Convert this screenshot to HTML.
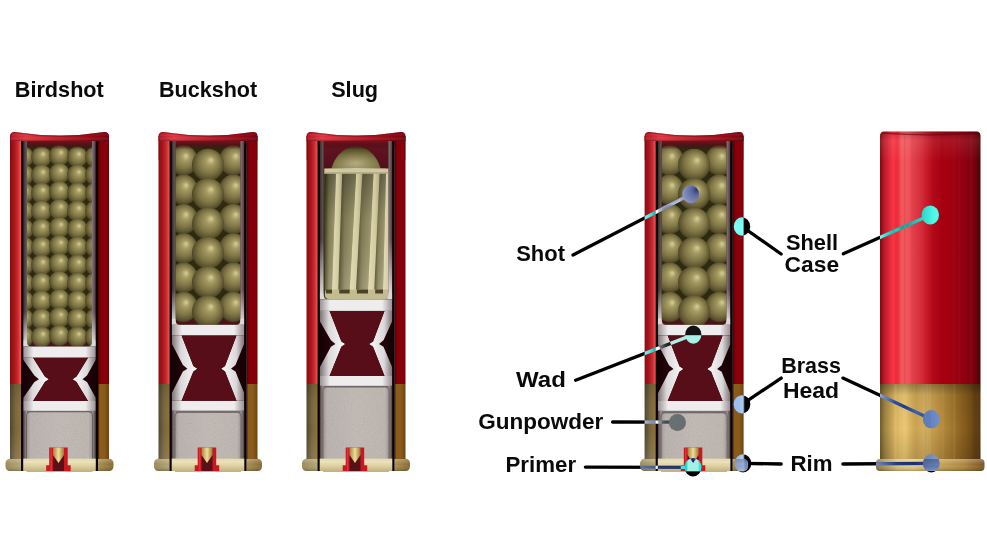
<!DOCTYPE html>
<html><head><meta charset="utf-8"><style>
html,body{margin:0;padding:0;background:#fff;width:987px;height:551px;overflow:hidden}
svg{display:block}
text{font-family:"Liberation Sans",sans-serif;font-weight:bold;font-size:22px;fill:#0a0a0a}
</style></head><body>
<svg width="987" height="551" viewBox="0 0 987 551">
<rect width="987" height="551" fill="#fff"/>
<defs><linearGradient id="redL" x1="0" y1="0" x2="1" y2="0"><stop offset="0" stop-color="#8a0c10"/><stop offset="0.4" stop-color="#a8161c"/><stop offset="0.75" stop-color="#cc2e34"/><stop offset="1" stop-color="#f45a58"/></linearGradient>
<linearGradient id="redR" x1="0" y1="0" x2="1" y2="0"><stop offset="0" stop-color="#4a0006"/><stop offset="0.25" stop-color="#86000a"/><stop offset="0.8" stop-color="#88000a"/><stop offset="1" stop-color="#6a0008"/></linearGradient>
<linearGradient id="brassL" x1="0" y1="0" x2="1" y2="0"><stop offset="0" stop-color="#50442a"/><stop offset="0.5" stop-color="#76663c"/><stop offset="1" stop-color="#8e7038"/></linearGradient>
<linearGradient id="brassLv" x1="0" y1="0" x2="0" y2="1"><stop offset="0" stop-color="#000" stop-opacity="0.12"/><stop offset="0.6" stop-color="#fff" stop-opacity="0.0"/><stop offset="1" stop-color="#fff" stop-opacity="0.1"/></linearGradient>
<linearGradient id="brassR" x1="0" y1="0" x2="1" y2="0"><stop offset="0" stop-color="#2a1808"/><stop offset="0.15" stop-color="#8a5c1c"/><stop offset="0.6" stop-color="#8a5a1a"/><stop offset="1" stop-color="#6a4412"/></linearGradient>
<linearGradient id="lip" x1="0" y1="0" x2="1" y2="0"><stop offset="0" stop-color="#b01420"/><stop offset="0.15" stop-color="#e23440"/><stop offset="0.45" stop-color="#c41c28"/><stop offset="0.8" stop-color="#9a0614"/><stop offset="1" stop-color="#7a000e"/></linearGradient>
<linearGradient id="lipV" x1="0" y1="0" x2="0" y2="1"><stop offset="0" stop-color="#000" stop-opacity="0.15"/><stop offset="0.25" stop-color="#fff" stop-opacity="0.06"/><stop offset="0.55" stop-color="#fff" stop-opacity="0.0"/><stop offset="1" stop-color="#000" stop-opacity="0.3"/></linearGradient>
<linearGradient id="topshade" x1="0" y1="0" x2="0" y2="1"><stop offset="0" stop-color="#7a1020" stop-opacity="1"/><stop offset="0.4" stop-color="#5a1018" stop-opacity="0.9"/><stop offset="1" stop-color="#3a0c10" stop-opacity="0.0"/></linearGradient>
<radialGradient id="ball" cx="0.5" cy="0.48" r="0.55" fx="0.6" fy="0.34">
 <stop offset="0" stop-color="#d6ce9a"/><stop offset="0.25" stop-color="#a49a62"/><stop offset="0.6" stop-color="#807646"/><stop offset="0.86" stop-color="#5a522e"/><stop offset="1" stop-color="#363012"/></radialGradient>
<linearGradient id="legL" x1="0" y1="0" x2="1" y2="0"><stop offset="0" stop-color="#7a7074"/><stop offset="0.35" stop-color="#dcd8da"/><stop offset="1" stop-color="#fafafa"/></linearGradient>
<linearGradient id="legR" x1="1" y1="0" x2="0" y2="0"><stop offset="0" stop-color="#7a7074"/><stop offset="0.35" stop-color="#dcd8da"/><stop offset="1" stop-color="#fafafa"/></linearGradient>
<linearGradient id="band" x1="0" y1="0" x2="1" y2="0"><stop offset="0" stop-color="#9a9094"/><stop offset="0.14" stop-color="#eeecec"/><stop offset="0.86" stop-color="#eeecec"/><stop offset="1" stop-color="#9a9094"/></linearGradient>
<linearGradient id="darkside" x1="0" y1="0" x2="1" y2="0"><stop offset="0" stop-color="#140104"/><stop offset="1" stop-color="#4a0c14"/></linearGradient>
<linearGradient id="darksideR" x1="1" y1="0" x2="0" y2="0"><stop offset="0" stop-color="#140104"/><stop offset="1" stop-color="#4a0c14"/></linearGradient>
<linearGradient id="powder" x1="0" y1="0" x2="1" y2="0"><stop offset="0" stop-color="#9a9290"/><stop offset="0.06" stop-color="#b8b0ac"/><stop offset="0.5" stop-color="#c0b8b2"/><stop offset="0.94" stop-color="#bcb4ae"/><stop offset="1" stop-color="#9a9290"/></linearGradient>
<linearGradient id="skirtL" x1="0" y1="0" x2="1" y2="0"><stop offset="0" stop-color="#4a3c3c"/><stop offset="1" stop-color="#a89c9c"/></linearGradient>
<linearGradient id="skirtR" x1="0" y1="0" x2="1" y2="0"><stop offset="0" stop-color="#a89c9c"/><stop offset="1" stop-color="#4a3c3c"/></linearGradient>
<linearGradient id="base" x1="0" y1="0" x2="0" y2="1"><stop offset="0" stop-color="#e8deb4"/><stop offset="0.45" stop-color="#e4d8aa"/><stop offset="1" stop-color="#c4b484"/></linearGradient>
<linearGradient id="rim" x1="0" y1="0" x2="1" y2="0"><stop offset="0" stop-color="#9a8a58"/><stop offset="0.3" stop-color="#d0c490"/><stop offset="0.7" stop-color="#c8b880"/><stop offset="1" stop-color="#8a6a30"/></linearGradient>
<linearGradient id="rimV" x1="0" y1="0" x2="0" y2="1"><stop offset="0" stop-color="#fff" stop-opacity="0.25"/><stop offset="0.45" stop-color="#fff" stop-opacity="0"/><stop offset="1" stop-color="#000" stop-opacity="0.25"/></linearGradient>
<linearGradient id="anvil" x1="0" y1="0" x2="1" y2="0"><stop offset="0" stop-color="#a08440"/><stop offset="0.5" stop-color="#f0dc98"/><stop offset="1" stop-color="#9a7a38"/></linearGradient>
<linearGradient id="linerL" x1="0" y1="0" x2="1" y2="0"><stop offset="0" stop-color="#3a2c2c"/><stop offset="1" stop-color="#6a5a5a"/></linearGradient>
<linearGradient id="linerR" x1="0" y1="0" x2="1" y2="0"><stop offset="0" stop-color="#84767a"/><stop offset="1" stop-color="#4a3a3c"/></linearGradient>
<linearGradient id="petalV" x1="0" y1="0" x2="0" y2="1"><stop offset="0" stop-color="#fff" stop-opacity="0"/><stop offset="1" stop-color="#fff" stop-opacity="0.85"/></linearGradient>
<linearGradient id="slugbody" x1="0" y1="0" x2="1" y2="0"><stop offset="0" stop-color="#8a845c"/><stop offset="0.5" stop-color="#b0aa80"/><stop offset="1" stop-color="#7a7450"/></linearGradient>
<linearGradient id="slugbg" x1="0" y1="0" x2="0" y2="1"><stop offset="0" stop-color="#7a1424"/><stop offset="0.3" stop-color="#5e1220"/><stop offset="1" stop-color="#4e0e1a"/></linearGradient>
<linearGradient id="sect" x1="0" y1="0" x2="1" y2="0"><stop offset="0" stop-color="#4a4426"/><stop offset="0.35" stop-color="#8a845a"/><stop offset="1" stop-color="#b4ac80"/></linearGradient>
<linearGradient id="rib" x1="0" y1="0" x2="1" y2="0"><stop offset="0" stop-color="#e4dcb4"/><stop offset="0.6" stop-color="#d4cca0"/><stop offset="1" stop-color="#b0a880"/></linearGradient>
<linearGradient id="slugV" x1="0" y1="0" x2="0" y2="1"><stop offset="0" stop-color="#000" stop-opacity="0.4"/><stop offset="0.4" stop-color="#000" stop-opacity="0.1"/><stop offset="1" stop-color="#fff" stop-opacity="0.15"/></linearGradient>
<radialGradient id="dome" cx="0.5" cy="0.9" r="0.85" fx="0.5" fy="0.7">
 <stop offset="0" stop-color="#b4ac80"/><stop offset="0.5" stop-color="#827a4a"/><stop offset="1" stop-color="#4a4420"/></radialGradient>
<linearGradient id="ext" x1="0" y1="0" x2="1" y2="0"><stop offset="0" stop-color="#7a0810"/><stop offset="0.04" stop-color="#b81828"/><stop offset="0.13" stop-color="#fa3444"/><stop offset="0.17" stop-color="#ec2a3a"/><stop offset="0.22" stop-color="#f65a5e"/><stop offset="0.285" stop-color="#f0525a"/><stop offset="0.35" stop-color="#de3a46"/><stop offset="0.42" stop-color="#d22a38"/><stop offset="0.47" stop-color="#c41826"/><stop offset="0.535" stop-color="#b00818"/><stop offset="0.63" stop-color="#a80010"/><stop offset="0.8" stop-color="#960010"/><stop offset="0.93" stop-color="#7a0010"/><stop offset="0.985" stop-color="#5a0008"/><stop offset="1" stop-color="#4a0008"/></linearGradient>
<linearGradient id="extV" x1="0" y1="0" x2="0" y2="1"><stop offset="0" stop-color="#000" stop-opacity="0.15"/><stop offset="0.04" stop-color="#fff" stop-opacity="0.08"/><stop offset="0.12" stop-color="#fff" stop-opacity="0"/><stop offset="1" stop-color="#000" stop-opacity="0"/></linearGradient>
<linearGradient id="extBrass" x1="0" y1="0" x2="1" y2="0"><stop offset="0" stop-color="#6e5c2c"/><stop offset="0.05" stop-color="#a08444"/><stop offset="0.15" stop-color="#dcb460"/><stop offset="0.25" stop-color="#eac872"/><stop offset="0.35" stop-color="#caa252"/><stop offset="0.45" stop-color="#d6b060"/><stop offset="0.55" stop-color="#c29848"/><stop offset="0.7" stop-color="#a47a30"/><stop offset="0.85" stop-color="#845a1c"/><stop offset="1" stop-color="#5a3810"/></linearGradient>
<linearGradient id="extBrassV" x1="0" y1="0" x2="0" y2="1"><stop offset="0" stop-color="#000" stop-opacity="0.3"/><stop offset="0.15" stop-color="#000" stop-opacity="0.05"/><stop offset="0.6" stop-color="#000" stop-opacity="0"/><stop offset="1" stop-color="#000" stop-opacity="0.12"/></linearGradient>
<linearGradient id="extRim" x1="0" y1="0" x2="1" y2="0"><stop offset="0" stop-color="#8a7440"/><stop offset="0.2" stop-color="#dcc480"/><stop offset="0.35" stop-color="#e6cc88"/><stop offset="0.55" stop-color="#cca860"/><stop offset="0.8" stop-color="#b08840"/><stop offset="1" stop-color="#7a5424"/></linearGradient>
<filter id="noise" x="0" y="0" width="100%" height="100%">
 <feTurbulence type="fractalNoise" baseFrequency="0.9" numOctaves="2" seed="3"/>
 <feColorMatrix values="1.2 0 0 0 -0.1  1.2 0 0 0 -0.1  1.2 0 0 0 -0.1  0 0 0 0 0.09"/>
 <feComposite in2="SourceGraphic" operator="in"/>
</filter>
<clipPath id="pc0"><path d="M27.0,141 H92.0 V342.0 Q92.0,346.5 87.5,346.5 H31.5 Q27.0,346.5 27.0,342.0 Z"/></clipPath>
<clipPath id="pc1"><path d="M175.5,141 H240.5 V320.3 Q240.5,324.8 236.0,324.8 H180.0 Q175.5,324.8 175.5,320.3 Z"/></clipPath>
<clipPath id="pc2"><path d="M323.5,141 H388.5 V294.8 Q388.5,299.3 384.0,299.3 H328.0 Q323.5,299.3 323.5,294.8 Z"/></clipPath>
<clipPath id="pc3"><path d="M661.6,141 H726.6 V320.3 Q726.6,324.8 722.1,324.8 H666.1 Q661.6,324.8 661.6,320.3 Z"/></clipPath>
<clipPath id="cutR"><rect x="600" y="0" width="144.5" height="551"/></clipPath>
<clipPath id="extC"><rect x="876" y="131" width="108.5" height="340"/></clipPath></defs>
<rect x="21" y="140" width="77" height="331" fill="#3a0a10"/>
<g clip-path="url(#pc0)"><rect x="27.0" y="141" width="65.0" height="205.5" fill="#2e2a10"/><rect x="27.0" y="338.5" width="65.0" height="8" fill="#4a1418"/><ellipse cx="23.5" cy="157.0" rx="10.3" ry="10.6" fill="url(#ball)"/><ellipse cx="23.5" cy="175.0" rx="10.3" ry="10.6" fill="url(#ball)"/><ellipse cx="23.5" cy="193.0" rx="10.3" ry="10.6" fill="url(#ball)"/><ellipse cx="23.5" cy="211.0" rx="10.3" ry="10.6" fill="url(#ball)"/><ellipse cx="23.5" cy="229.0" rx="10.3" ry="10.6" fill="url(#ball)"/><ellipse cx="23.5" cy="247.0" rx="10.3" ry="10.6" fill="url(#ball)"/><ellipse cx="23.5" cy="265.0" rx="10.3" ry="10.6" fill="url(#ball)"/><ellipse cx="23.5" cy="283.0" rx="10.3" ry="10.6" fill="url(#ball)"/><ellipse cx="23.5" cy="301.0" rx="10.3" ry="10.6" fill="url(#ball)"/><ellipse cx="23.5" cy="319.0" rx="10.3" ry="10.6" fill="url(#ball)"/><ellipse cx="23.5" cy="337.0" rx="10.3" ry="10.6" fill="url(#ball)"/><ellipse cx="41.4" cy="157.0" rx="10.3" ry="10.6" fill="url(#ball)"/><ellipse cx="41.4" cy="175.0" rx="10.3" ry="10.6" fill="url(#ball)"/><ellipse cx="41.4" cy="193.0" rx="10.3" ry="10.6" fill="url(#ball)"/><ellipse cx="41.4" cy="211.0" rx="10.3" ry="10.6" fill="url(#ball)"/><ellipse cx="41.4" cy="229.0" rx="10.3" ry="10.6" fill="url(#ball)"/><ellipse cx="41.4" cy="247.0" rx="10.3" ry="10.6" fill="url(#ball)"/><ellipse cx="41.4" cy="265.0" rx="10.3" ry="10.6" fill="url(#ball)"/><ellipse cx="41.4" cy="283.0" rx="10.3" ry="10.6" fill="url(#ball)"/><ellipse cx="41.4" cy="301.0" rx="10.3" ry="10.6" fill="url(#ball)"/><ellipse cx="41.4" cy="319.0" rx="10.3" ry="10.6" fill="url(#ball)"/><ellipse cx="41.4" cy="337.0" rx="10.3" ry="10.6" fill="url(#ball)"/><ellipse cx="59.3" cy="155.5" rx="10.3" ry="10.6" fill="url(#ball)"/><ellipse cx="59.3" cy="173.5" rx="10.3" ry="10.6" fill="url(#ball)"/><ellipse cx="59.3" cy="191.5" rx="10.3" ry="10.6" fill="url(#ball)"/><ellipse cx="59.3" cy="209.5" rx="10.3" ry="10.6" fill="url(#ball)"/><ellipse cx="59.3" cy="227.5" rx="10.3" ry="10.6" fill="url(#ball)"/><ellipse cx="59.3" cy="245.5" rx="10.3" ry="10.6" fill="url(#ball)"/><ellipse cx="59.3" cy="263.5" rx="10.3" ry="10.6" fill="url(#ball)"/><ellipse cx="59.3" cy="281.5" rx="10.3" ry="10.6" fill="url(#ball)"/><ellipse cx="59.3" cy="299.5" rx="10.3" ry="10.6" fill="url(#ball)"/><ellipse cx="59.3" cy="317.5" rx="10.3" ry="10.6" fill="url(#ball)"/><ellipse cx="59.3" cy="335.5" rx="10.3" ry="10.6" fill="url(#ball)"/><ellipse cx="77.3" cy="157.0" rx="10.3" ry="10.6" fill="url(#ball)"/><ellipse cx="77.3" cy="175.0" rx="10.3" ry="10.6" fill="url(#ball)"/><ellipse cx="77.3" cy="193.0" rx="10.3" ry="10.6" fill="url(#ball)"/><ellipse cx="77.3" cy="211.0" rx="10.3" ry="10.6" fill="url(#ball)"/><ellipse cx="77.3" cy="229.0" rx="10.3" ry="10.6" fill="url(#ball)"/><ellipse cx="77.3" cy="247.0" rx="10.3" ry="10.6" fill="url(#ball)"/><ellipse cx="77.3" cy="265.0" rx="10.3" ry="10.6" fill="url(#ball)"/><ellipse cx="77.3" cy="283.0" rx="10.3" ry="10.6" fill="url(#ball)"/><ellipse cx="77.3" cy="301.0" rx="10.3" ry="10.6" fill="url(#ball)"/><ellipse cx="77.3" cy="319.0" rx="10.3" ry="10.6" fill="url(#ball)"/><ellipse cx="77.3" cy="337.0" rx="10.3" ry="10.6" fill="url(#ball)"/><ellipse cx="95.3" cy="157.0" rx="10.3" ry="10.6" fill="url(#ball)"/><ellipse cx="95.3" cy="175.0" rx="10.3" ry="10.6" fill="url(#ball)"/><ellipse cx="95.3" cy="193.0" rx="10.3" ry="10.6" fill="url(#ball)"/><ellipse cx="95.3" cy="211.0" rx="10.3" ry="10.6" fill="url(#ball)"/><ellipse cx="95.3" cy="229.0" rx="10.3" ry="10.6" fill="url(#ball)"/><ellipse cx="95.3" cy="247.0" rx="10.3" ry="10.6" fill="url(#ball)"/><ellipse cx="95.3" cy="265.0" rx="10.3" ry="10.6" fill="url(#ball)"/><ellipse cx="95.3" cy="283.0" rx="10.3" ry="10.6" fill="url(#ball)"/><ellipse cx="95.3" cy="301.0" rx="10.3" ry="10.6" fill="url(#ball)"/><ellipse cx="95.3" cy="319.0" rx="10.3" ry="10.6" fill="url(#ball)"/><ellipse cx="95.3" cy="337.0" rx="10.3" ry="10.6" fill="url(#ball)"/></g>
<rect x="21" y="140.5" width="77" height="9" fill="url(#topshade)"/>
<rect x="23.2" y="141" width="3.8000000000000007" height="205.5" fill="url(#linerL)"/>
<rect x="92.0" y="141" width="3.799999999999997" height="205.5" fill="url(#linerR)"/>
<rect x="23.2" y="311.5" width="3.8000000000000007" height="35" fill="url(#petalV)"/>
<rect x="92.0" y="311.5" width="3.799999999999997" height="35" fill="url(#petalV)"/>
<path d="M23.2,340.5 V347.0 H32.0 Q27.0,346.5 27.0,341.5 V340.5 Z" fill="#dcd8da"/>
<path d="M95.8,340.5 V347.0 H87.0 Q92.0,346.5 92.0,341.5 V340.5 Z" fill="#dcd8da"/>
<rect x="23.2" y="346.5" width="36.3" height="64.80000000000001" fill="url(#darkside)"/>
<rect x="59.5" y="346.5" width="36.3" height="64.80000000000001" fill="url(#darksideR)"/>
<polygon points="23.20,357.70 33.10,357.70 44.90,376.50 48.90,379.20 44.90,381.90 33.10,401.00 23.20,401.00 23.20,398.00 34.40,381.90 38.90,379.20 34.40,375.40 23.20,359.70" fill="url(#legL)"/>
<polygon points="95.80,357.70 88.00,357.70 76.50,376.50 72.50,379.20 76.50,381.90 88.00,401.00 95.80,401.00 95.80,398.00 87.00,381.90 82.50,379.20 87.00,375.40 95.80,359.70" fill="url(#legR)"/>
<rect x="23.2" y="346.5" width="72.6" height="11.199999999999989" fill="url(#band)"/>
<rect x="23.2" y="401" width="72.6" height="10.300000000000011" fill="url(#band)"/>
<polygon points="33.10,357.70 88.00,357.70 76.50,376.50 72.50,379.20 76.50,381.90 88.00,401.00 33.10,401.00 44.90,381.90 48.90,379.20 44.90,376.50" fill="#580e18"/>
<rect x="23.2" y="410.8" width="72.6" height="60.19999999999999" fill="#7a7274"/>
<rect x="23.2" y="410.8" width="3.8" height="60.19999999999999" fill="url(#skirtL)"/>
<rect x="92.0" y="410.8" width="3.8" height="60.19999999999999" fill="url(#skirtR)"/>
<path d="M26.5,471 V416.3 Q26.5,411.8 31.0,411.8 H88.0 Q92.5,411.8 92.5,416.3 V471 Z" fill="url(#powder)" stroke="#5e5656" stroke-width="0.9"/>
<path d="M26.5,471 V416.3 Q26.5,411.8 31.0,411.8 H88.0 Q92.5,411.8 92.5,416.3 V471 Z" fill="#fff" filter="url(#noise)"/>
<rect x="5.5" y="458.8" width="108" height="12.2" rx="4.5" fill="url(#rim)"/>
<rect x="5.5" y="458.8" width="108" height="12.2" rx="4.5" fill="url(#rimV)"/>
<rect x="21" y="458.8" width="77" height="12.2" fill="url(#base)"/>
<rect x="21" y="461.5" width="77" height="1" fill="#fff" opacity="0.35"/>
<rect x="49.2" y="447.5" width="18.5" height="23.5" fill="#c81820"/>
<rect x="46.2" y="465.3" width="24.5" height="5.7" fill="#c81820"/>
<rect x="50.400000000000006" y="448" width="1.5" height="23" fill="#ec3a44" opacity="0.7"/>
<rect x="53.0" y="455" width="11" height="16" fill="#5a1018"/>
<polygon points="53.0,447.5 64.0,447.5 64.0,455 58.5,463 53.0,455" fill="url(#anvil)"/>
<rect x="10" y="136" width="11" height="248" fill="url(#redL)"/>
<rect x="98" y="136" width="11" height="248" fill="url(#redR)"/>
<rect x="10" y="384" width="11" height="75" fill="url(#brassL)"/>
<rect x="10" y="384" width="11" height="75" fill="url(#brassLv)"/>
<rect x="98" y="384" width="11" height="75" fill="url(#brassR)"/>
<rect x="21" y="141" width="2.2" height="330" fill="#0a0204"/>
<rect x="95.8" y="141" width="2.2" height="330" fill="#0a0204"/>
<path d="M10,141 L10,136.5 Q10,132 14.5,132 Q60,139 104.5,132 Q109,132 109,136.5 L109,141 Z" fill="url(#lip)"/>
<path d="M10,141 L10,136.5 Q10,132 14.5,132 Q60,139 104.5,132 Q109,132 109,136.5 L109,141 Z" fill="url(#lipV)"/>
<path d="M10.6,160 L10.6,136.5 Q10.6,132.6 14.5,132.6 Q60,139.6 104.5,132.6 Q108.4,132.6 108.4,136.5 L108.4,160" fill="none" stroke="#6a0610" stroke-width="1.2" opacity="0.45"/>
<rect x="169.5" y="140" width="77.0" height="331" fill="#3a0a10"/>
<g clip-path="url(#pc1)"><rect x="175.5" y="141" width="65.0" height="183.8" fill="#2e2a10"/><rect x="175.5" y="316.8" width="65.0" height="8" fill="#4a1418"/><ellipse cx="183.5" cy="160.5" rx="14.2" ry="15.2" fill="url(#ball)"/><ellipse cx="233.3" cy="160.5" rx="14.2" ry="15.2" fill="url(#ball)"/><ellipse cx="183.5" cy="189.8" rx="14.2" ry="15.2" fill="url(#ball)"/><ellipse cx="233.3" cy="189.8" rx="14.2" ry="15.2" fill="url(#ball)"/><ellipse cx="183.5" cy="219.1" rx="14.2" ry="15.2" fill="url(#ball)"/><ellipse cx="233.3" cy="219.1" rx="14.2" ry="15.2" fill="url(#ball)"/><ellipse cx="183.5" cy="248.4" rx="14.2" ry="15.2" fill="url(#ball)"/><ellipse cx="233.3" cy="248.4" rx="14.2" ry="15.2" fill="url(#ball)"/><ellipse cx="183.5" cy="277.7" rx="14.2" ry="15.2" fill="url(#ball)"/><ellipse cx="233.3" cy="277.7" rx="14.2" ry="15.2" fill="url(#ball)"/><ellipse cx="183.5" cy="307.0" rx="14.2" ry="15.2" fill="url(#ball)"/><ellipse cx="233.3" cy="307.0" rx="14.2" ry="15.2" fill="url(#ball)"/><ellipse cx="208.0" cy="165.0" rx="16.0" ry="16.2" fill="url(#ball)"/><ellipse cx="208.0" cy="194.3" rx="16.0" ry="16.2" fill="url(#ball)"/><ellipse cx="208.0" cy="223.6" rx="16.0" ry="16.2" fill="url(#ball)"/><ellipse cx="208.0" cy="252.9" rx="16.0" ry="16.2" fill="url(#ball)"/><ellipse cx="208.0" cy="282.2" rx="16.0" ry="16.2" fill="url(#ball)"/><ellipse cx="208.0" cy="311.5" rx="16.0" ry="16.2" fill="url(#ball)"/></g>
<rect x="169.5" y="140.5" width="77.0" height="9" fill="url(#topshade)"/>
<rect x="171.7" y="141" width="3.8000000000000114" height="183.8" fill="url(#linerL)"/>
<rect x="240.5" y="141" width="3.8000000000000114" height="183.8" fill="url(#linerR)"/>
<rect x="171.7" y="289.8" width="3.8000000000000114" height="35" fill="url(#petalV)"/>
<rect x="240.5" y="289.8" width="3.8000000000000114" height="35" fill="url(#petalV)"/>
<path d="M171.7,318.8 V325.3 H180.5 Q175.5,324.8 175.5,319.8 V318.8 Z" fill="#dcd8da"/>
<path d="M244.3,318.8 V325.3 H235.5 Q240.5,324.8 240.5,319.8 V318.8 Z" fill="#dcd8da"/>
<rect x="171.7" y="324.8" width="36.30000000000001" height="86.30000000000001" fill="url(#darkside)"/>
<rect x="208.0" y="324.8" width="36.30000000000001" height="86.30000000000001" fill="url(#darksideR)"/>
<polygon points="171.70,335.50 181.60,335.50 193.40,366.10 197.40,368.80 193.40,371.50 181.60,400.80 171.70,400.80 171.70,393.30 182.90,371.50 187.40,368.80 182.90,365.00 171.70,343.50" fill="url(#legL)"/>
<polygon points="244.30,335.50 236.50,335.50 225.00,366.10 221.00,368.80 225.00,371.50 236.50,400.80 244.30,400.80 244.30,393.30 235.50,371.50 231.00,368.80 235.50,365.00 244.30,343.50" fill="url(#legR)"/>
<rect x="171.7" y="324.8" width="72.60000000000002" height="10.699999999999989" fill="url(#band)"/>
<rect x="171.7" y="400.8" width="72.60000000000002" height="10.300000000000011" fill="url(#band)"/>
<polygon points="181.60,335.50 236.50,335.50 225.00,366.10 221.00,368.80 225.00,371.50 236.50,400.80 181.60,400.80 193.40,371.50 197.40,368.80 193.40,366.10" fill="#580e18"/>
<rect x="171.7" y="410.6" width="72.60000000000002" height="60.39999999999998" fill="#7a7274"/>
<rect x="171.7" y="410.6" width="3.8" height="60.39999999999998" fill="url(#skirtL)"/>
<rect x="240.5" y="410.6" width="3.8" height="60.39999999999998" fill="url(#skirtR)"/>
<path d="M175.0,471 V416.8 Q175.0,412.3 179.5,412.3 H236.5 Q241.0,412.3 241.0,416.8 V471 Z" fill="url(#powder)" stroke="#5e5656" stroke-width="0.9"/>
<path d="M175.0,471 V416.8 Q175.0,412.3 179.5,412.3 H236.5 Q241.0,412.3 241.0,416.8 V471 Z" fill="#fff" filter="url(#noise)"/>
<rect x="154.0" y="458.8" width="108" height="12.2" rx="4.5" fill="url(#rim)"/>
<rect x="154.0" y="458.8" width="108" height="12.2" rx="4.5" fill="url(#rimV)"/>
<rect x="169.5" y="458.8" width="77.0" height="12.2" fill="url(#base)"/>
<rect x="169.5" y="461.5" width="77.0" height="1" fill="#fff" opacity="0.35"/>
<rect x="197.7" y="447.5" width="18.5" height="23.5" fill="#c81820"/>
<rect x="194.7" y="465.3" width="24.5" height="5.7" fill="#c81820"/>
<rect x="198.89999999999998" y="448" width="1.5" height="23" fill="#ec3a44" opacity="0.7"/>
<rect x="201.5" y="455" width="11" height="16" fill="#5a1018"/>
<polygon points="201.5,447.5 212.5,447.5 212.5,455 207.0,463 201.5,455" fill="url(#anvil)"/>
<rect x="158.5" y="136" width="11" height="248" fill="url(#redL)"/>
<rect x="246.5" y="136" width="11" height="248" fill="url(#redR)"/>
<rect x="158.5" y="384" width="11" height="75" fill="url(#brassL)"/>
<rect x="158.5" y="384" width="11" height="75" fill="url(#brassLv)"/>
<rect x="246.5" y="384" width="11" height="75" fill="url(#brassR)"/>
<rect x="169.5" y="141" width="2.2" height="330" fill="#0a0204"/>
<rect x="244.3" y="141" width="2.2" height="330" fill="#0a0204"/>
<path d="M158.5,141 L158.5,136.5 Q158.5,132 163.0,132 Q208.5,139 253.0,132 Q257.5,132 257.5,136.5 L257.5,141 Z" fill="url(#lip)"/>
<path d="M158.5,141 L158.5,136.5 Q158.5,132 163.0,132 Q208.5,139 253.0,132 Q257.5,132 257.5,136.5 L257.5,141 Z" fill="url(#lipV)"/>
<path d="M159.1,160 L159.1,136.5 Q159.1,132.6 163.0,132.6 Q208.5,139.6 253.0,132.6 Q256.9,132.6 256.9,136.5 L256.9,160" fill="none" stroke="#6a0610" stroke-width="1.2" opacity="0.45"/>
<rect x="317.5" y="140" width="77.0" height="331" fill="#3a0a10"/>
<g clip-path="url(#pc2)"><rect x="323.5" y="141" width="65.0" height="158.3" fill="#3e3a20"/><rect x="323.5" y="141" width="65.0" height="32" fill="url(#slugbg)"/><path d="M331.1,170 C334.5,156 344.5,146.6 356.2,146.6 C367.5,146.6 377.5,156 380.9,170 Z" fill="url(#dome)"/><rect x="325.0" y="168.5" width="64" height="130.5" rx="5" fill="#6a6440"/><polygon points="325.0,173 336.0,173 332.0,290 325.0,290" fill="url(#sect)"/><polygon points="342.2,173 356.2,173 349.7,290 338.2,290" fill="url(#sect)"/><polygon points="362.4,173 373.5,173 368.0,290 355.9,290" fill="url(#sect)"/><polygon points="379.7,173 386.0,173 383.0,290 374.2,290" fill="url(#sect)"/><rect x="325.0" y="168.5" width="64" height="130.5" rx="5" fill="url(#slugV)"/><polygon points="336.0,173 342.2,173 338.2,290 332.0,290" fill="url(#rib)"/><polygon points="356.2,173 362.4,173 355.9,290 349.7,290" fill="url(#rib)"/><polygon points="373.5,173 379.7,173 374.2,290 368.0,290" fill="url(#rib)"/><polygon points="386.0,173 392.2,173 389.2,290 383.0,290" fill="url(#rib)"/><path d="M324.3,168.6 Q356.5,167.2 389.7,168.6 V173.8 H324.3 Z" fill="#d0c8a0"/><rect x="325.0" y="172.4" width="64" height="1.2" fill="#8a8460" opacity="0.6"/><rect x="325.0" y="289.5" width="64" height="9.5" rx="4" fill="#c4bc90"/><rect x="326.0" y="289.5" width="6.0" height="4" fill="#4a4424"/><rect x="339.2" y="289.5" width="10.5" height="4" fill="#4a4424"/><rect x="356.9" y="289.5" width="11.100000000000023" height="4" fill="#4a4424"/><rect x="375.2" y="289.5" width="7.800000000000011" height="4" fill="#4a4424"/></g>
<rect x="317.5" y="140.5" width="77.0" height="9" fill="url(#topshade)"/>
<rect x="319.7" y="141" width="3.8000000000000114" height="158.3" fill="url(#linerL)"/>
<rect x="388.5" y="141" width="3.8000000000000114" height="158.3" fill="url(#linerR)"/>
<rect x="319.7" y="239.3" width="3.8000000000000114" height="60" fill="url(#petalV)"/>
<rect x="388.5" y="239.3" width="3.8000000000000114" height="60" fill="url(#petalV)"/>
<path d="M319.7,293.3 V299.8 H328.5 Q323.5,299.3 323.5,294.3 V293.3 Z" fill="#dcd8da"/>
<path d="M392.3,293.3 V299.8 H383.5 Q388.5,299.3 388.5,294.3 V293.3 Z" fill="#dcd8da"/>
<rect x="319.7" y="299.3" width="36.30000000000001" height="87.0" fill="url(#darkside)"/>
<rect x="356.0" y="299.3" width="36.30000000000001" height="87.0" fill="url(#darksideR)"/>
<polygon points="319.70,310.90 329.60,310.90 341.40,341.40 345.40,344.10 341.40,346.80 329.60,376.00 319.70,376.00 319.70,367.40 330.90,346.80 335.40,344.10 330.90,340.30 319.70,320.90" fill="url(#legL)"/>
<polygon points="392.30,310.90 384.50,310.90 373.00,341.40 369.00,344.10 373.00,346.80 384.50,376.00 392.30,376.00 392.30,367.40 383.50,346.80 379.00,344.10 383.50,340.30 392.30,320.90" fill="url(#legR)"/>
<rect x="319.7" y="299.3" width="72.60000000000002" height="11.599999999999966" fill="url(#band)"/>
<rect x="319.7" y="376" width="72.60000000000002" height="10.300000000000011" fill="url(#band)"/>
<polygon points="329.60,310.90 384.50,310.90 373.00,341.40 369.00,344.10 373.00,346.80 384.50,376.00 329.60,376.00 341.40,346.80 345.40,344.10 341.40,341.40" fill="#580e18"/>
<rect x="319.7" y="385.8" width="72.60000000000002" height="85.19999999999999" fill="#7a7274"/>
<rect x="319.7" y="385.8" width="3.8" height="85.19999999999999" fill="url(#skirtL)"/>
<rect x="388.5" y="385.8" width="3.8" height="85.19999999999999" fill="url(#skirtR)"/>
<path d="M323.0,471 V391.5 Q323.0,387 327.5,387 H384.5 Q389.0,387 389.0,391.5 V471 Z" fill="url(#powder)" stroke="#5e5656" stroke-width="0.9"/>
<path d="M323.0,471 V391.5 Q323.0,387 327.5,387 H384.5 Q389.0,387 389.0,391.5 V471 Z" fill="#fff" filter="url(#noise)"/>
<rect x="302.0" y="458.8" width="108" height="12.2" rx="4.5" fill="url(#rim)"/>
<rect x="302.0" y="458.8" width="108" height="12.2" rx="4.5" fill="url(#rimV)"/>
<rect x="317.5" y="458.8" width="77.0" height="12.2" fill="url(#base)"/>
<rect x="317.5" y="461.5" width="77.0" height="1" fill="#fff" opacity="0.35"/>
<rect x="345.7" y="447.5" width="18.5" height="23.5" fill="#c81820"/>
<rect x="342.7" y="465.3" width="24.5" height="5.7" fill="#c81820"/>
<rect x="346.9" y="448" width="1.5" height="23" fill="#ec3a44" opacity="0.7"/>
<rect x="349.5" y="455" width="11" height="16" fill="#5a1018"/>
<polygon points="349.5,447.5 360.5,447.5 360.5,455 355.0,463 349.5,455" fill="url(#anvil)"/>
<rect x="306.5" y="136" width="11" height="248" fill="url(#redL)"/>
<rect x="394.5" y="136" width="11" height="248" fill="url(#redR)"/>
<rect x="306.5" y="384" width="11" height="75" fill="url(#brassL)"/>
<rect x="306.5" y="384" width="11" height="75" fill="url(#brassLv)"/>
<rect x="394.5" y="384" width="11" height="75" fill="url(#brassR)"/>
<rect x="317.5" y="141" width="2.2" height="330" fill="#0a0204"/>
<rect x="392.3" y="141" width="2.2" height="330" fill="#0a0204"/>
<path d="M306.5,141 L306.5,136.5 Q306.5,132 311.0,132 Q356.5,139 401.0,132 Q405.5,132 405.5,136.5 L405.5,141 Z" fill="url(#lip)"/>
<path d="M306.5,141 L306.5,136.5 Q306.5,132 311.0,132 Q356.5,139 401.0,132 Q405.5,132 405.5,136.5 L405.5,141 Z" fill="url(#lipV)"/>
<path d="M307.1,160 L307.1,136.5 Q307.1,132.6 311.0,132.6 Q356.5,139.6 401.0,132.6 Q404.9,132.6 404.9,136.5 L404.9,160" fill="none" stroke="#6a0610" stroke-width="1.2" opacity="0.45"/>
<rect x="655.6" y="140" width="77.0" height="331" fill="#3a0a10"/>
<g clip-path="url(#pc3)"><rect x="661.6" y="141" width="65.0" height="183.8" fill="#2e2a10"/><rect x="661.6" y="316.8" width="65.0" height="8" fill="#4a1418"/><ellipse cx="669.6" cy="160.5" rx="14.2" ry="15.2" fill="url(#ball)"/><ellipse cx="719.4" cy="160.5" rx="14.2" ry="15.2" fill="url(#ball)"/><ellipse cx="669.6" cy="189.8" rx="14.2" ry="15.2" fill="url(#ball)"/><ellipse cx="719.4" cy="189.8" rx="14.2" ry="15.2" fill="url(#ball)"/><ellipse cx="669.6" cy="219.1" rx="14.2" ry="15.2" fill="url(#ball)"/><ellipse cx="719.4" cy="219.1" rx="14.2" ry="15.2" fill="url(#ball)"/><ellipse cx="669.6" cy="248.4" rx="14.2" ry="15.2" fill="url(#ball)"/><ellipse cx="719.4" cy="248.4" rx="14.2" ry="15.2" fill="url(#ball)"/><ellipse cx="669.6" cy="277.7" rx="14.2" ry="15.2" fill="url(#ball)"/><ellipse cx="719.4" cy="277.7" rx="14.2" ry="15.2" fill="url(#ball)"/><ellipse cx="669.6" cy="307.0" rx="14.2" ry="15.2" fill="url(#ball)"/><ellipse cx="719.4" cy="307.0" rx="14.2" ry="15.2" fill="url(#ball)"/><ellipse cx="694.1" cy="165.0" rx="16.0" ry="16.2" fill="url(#ball)"/><ellipse cx="694.1" cy="194.3" rx="16.0" ry="16.2" fill="url(#ball)"/><ellipse cx="694.1" cy="223.6" rx="16.0" ry="16.2" fill="url(#ball)"/><ellipse cx="694.1" cy="252.9" rx="16.0" ry="16.2" fill="url(#ball)"/><ellipse cx="694.1" cy="282.2" rx="16.0" ry="16.2" fill="url(#ball)"/><ellipse cx="694.1" cy="311.5" rx="16.0" ry="16.2" fill="url(#ball)"/></g>
<rect x="655.6" y="140.5" width="77.0" height="9" fill="url(#topshade)"/>
<rect x="657.8000000000001" y="141" width="3.7999999999999545" height="183.8" fill="url(#linerL)"/>
<rect x="726.6" y="141" width="3.7999999999999545" height="183.8" fill="url(#linerR)"/>
<rect x="657.8000000000001" y="289.8" width="3.7999999999999545" height="35" fill="url(#petalV)"/>
<rect x="726.6" y="289.8" width="3.7999999999999545" height="35" fill="url(#petalV)"/>
<path d="M657.8000000000001,318.8 V325.3 H666.6 Q661.6,324.8 661.6,319.8 V318.8 Z" fill="#dcd8da"/>
<path d="M730.4,318.8 V325.3 H721.6 Q726.6,324.8 726.6,319.8 V318.8 Z" fill="#dcd8da"/>
<rect x="657.8000000000001" y="324.8" width="36.299999999999955" height="86.5" fill="url(#darkside)"/>
<rect x="694.1" y="324.8" width="36.299999999999955" height="86.5" fill="url(#darksideR)"/>
<polygon points="657.80,335.40 667.70,335.40 679.50,366.30 683.50,369.00 679.50,371.70 667.70,401.00 657.80,401.00 657.80,393.50 669.00,371.70 673.50,369.00 669.00,365.20 657.80,343.90" fill="url(#legL)"/>
<polygon points="730.40,335.40 722.60,335.40 711.10,366.30 707.10,369.00 711.10,371.70 722.60,401.00 730.40,401.00 730.40,393.50 721.60,371.70 717.10,369.00 721.60,365.20 730.40,343.90" fill="url(#legR)"/>
<rect x="657.8000000000001" y="324.8" width="72.59999999999991" height="10.599999999999966" fill="url(#band)"/>
<rect x="657.8000000000001" y="401" width="72.59999999999991" height="10.300000000000011" fill="url(#band)"/>
<polygon points="667.70,335.40 722.60,335.40 711.10,366.30 707.10,369.00 711.10,371.70 722.60,401.00 667.70,401.00 679.50,371.70 683.50,369.00 679.50,366.30" fill="#580e18"/>
<rect x="657.8000000000001" y="410.8" width="72.59999999999991" height="60.19999999999999" fill="#7a7274"/>
<rect x="657.8000000000001" y="410.8" width="3.8" height="60.19999999999999" fill="url(#skirtL)"/>
<rect x="726.6" y="410.8" width="3.8" height="60.19999999999999" fill="url(#skirtR)"/>
<path d="M661.1,471 V417.3 Q661.1,412.8 665.6,412.8 H722.6 Q727.1,412.8 727.1,417.3 V471 Z" fill="url(#powder)" stroke="#5e5656" stroke-width="0.9"/>
<path d="M661.1,471 V417.3 Q661.1,412.8 665.6,412.8 H722.6 Q727.1,412.8 727.1,417.3 V471 Z" fill="#fff" filter="url(#noise)"/>
<rect x="640.1" y="458.8" width="108" height="12.2" rx="4.5" fill="url(#rim)"/>
<rect x="640.1" y="458.8" width="108" height="12.2" rx="4.5" fill="url(#rimV)"/>
<rect x="655.6" y="458.8" width="77.0" height="12.2" fill="url(#base)"/>
<rect x="655.6" y="461.5" width="77.0" height="1" fill="#fff" opacity="0.35"/>
<rect x="683.8000000000001" y="447.5" width="18.5" height="23.5" fill="#c81820"/>
<rect x="680.8000000000001" y="465.3" width="24.5" height="5.7" fill="#c81820"/>
<rect x="685.0000000000001" y="448" width="1.5" height="23" fill="#ec3a44" opacity="0.7"/>
<rect x="687.6" y="455" width="11" height="16" fill="#5a1018"/>
<polygon points="687.6,447.5 698.6,447.5 698.6,455 693.1,463 687.6,455" fill="url(#anvil)"/>
<rect x="644.6" y="136" width="11" height="248" fill="url(#redL)"/>
<rect x="732.6" y="136" width="11" height="248" fill="url(#redR)"/>
<rect x="644.6" y="384" width="11" height="75" fill="url(#brassL)"/>
<rect x="644.6" y="384" width="11" height="75" fill="url(#brassLv)"/>
<rect x="732.6" y="384" width="11" height="75" fill="url(#brassR)"/>
<rect x="655.6" y="141" width="2.2" height="330" fill="#0a0204"/>
<rect x="730.4" y="141" width="2.2" height="330" fill="#0a0204"/>
<path d="M644.6,141 L644.6,136.5 Q644.6,132 649.1,132 Q694.6,139 739.1,132 Q743.6,132 743.6,136.5 L743.6,141 Z" fill="url(#lip)"/>
<path d="M644.6,141 L644.6,136.5 Q644.6,132 649.1,132 Q694.6,139 739.1,132 Q743.6,132 743.6,136.5 L743.6,141 Z" fill="url(#lipV)"/>
<path d="M645.2,160 L645.2,136.5 Q645.2,132.6 649.1,132.6 Q694.6,139.6 739.1,132.6 Q743.0,132.6 743.0,136.5 L743.0,160" fill="none" stroke="#6a0610" stroke-width="1.2" opacity="0.45"/>
<path d="M880,136 Q880,131.5 884,131.5 L976.5,131.5 Q980.5,131.5 980.5,136 L980.5,384 L880,384 Z" fill="url(#ext)"/>
<path d="M880,136 Q880,131.5 884,131.5 L976.5,131.5 Q980.5,131.5 980.5,136 L980.5,384 L880,384 Z" fill="url(#extV)"/>
<path d="M883,133.2 Q930,136.5 977.5,133.2" stroke="#5a0410" stroke-width="1.3" fill="none" opacity="0.6"/>
<rect x="941.1" y="134" width="2.1" height="250" fill="#400008" opacity="0.04"/>
<rect x="951.6" y="134" width="2.4" height="250" fill="#ff8080" opacity="0.02"/>
<rect x="969.9" y="134" width="1.9" height="250" fill="#ff8080" opacity="0.05"/>
<rect x="927.2" y="134" width="1.2" height="250" fill="#ff8080" opacity="0.04"/>
<rect x="886.2" y="134" width="1.2" height="250" fill="#400008" opacity="0.03"/>
<rect x="953.9" y="134" width="1.1" height="250" fill="#ff8080" opacity="0.04"/>
<rect x="940.6" y="134" width="1.0" height="250" fill="#400008" opacity="0.02"/>
<rect x="903.9" y="134" width="1.2" height="250" fill="#400008" opacity="0.05"/>
<rect x="911.0" y="134" width="2.4" height="250" fill="#400008" opacity="0.04"/>
<rect x="903.4" y="134" width="2.4" height="250" fill="#400008" opacity="0.04"/>
<rect x="965.4" y="134" width="1.3" height="250" fill="#ff8080" opacity="0.03"/>
<rect x="898.1" y="134" width="0.9" height="250" fill="#400008" opacity="0.03"/>
<rect x="885.3" y="134" width="2.0" height="250" fill="#ff8080" opacity="0.03"/>
<rect x="958.7" y="134" width="1.6" height="250" fill="#ff8080" opacity="0.03"/>
<rect x="880" y="384" width="100.5" height="75" fill="url(#extBrass)"/>
<rect x="880" y="384" width="100.5" height="75" fill="url(#extBrassV)"/>
<rect x="925.8" y="384" width="2.1" height="75" fill="#fff8d0" opacity="0.09"/>
<rect x="930.7" y="384" width="2.2" height="75" fill="#3a2808" opacity="0.05"/>
<rect x="941.4" y="384" width="2.6" height="75" fill="#fff8d0" opacity="0.04"/>
<rect x="894.0" y="384" width="2.6" height="75" fill="#fff8d0" opacity="0.07"/>
<rect x="972.4" y="384" width="2.9" height="75" fill="#3a2808" opacity="0.07"/>
<rect x="899.9" y="384" width="1.0" height="75" fill="#fff8d0" opacity="0.07"/>
<rect x="902.7" y="384" width="1.5" height="75" fill="#fff8d0" opacity="0.04"/>
<rect x="924.8" y="384" width="2.7" height="75" fill="#3a2808" opacity="0.07"/>
<rect x="930.0" y="384" width="2.3" height="75" fill="#fff8d0" opacity="0.06"/>
<rect x="973.8" y="384" width="3.0" height="75" fill="#3a2808" opacity="0.08"/>
<rect x="913.7" y="384" width="1.5" height="75" fill="#fff8d0" opacity="0.05"/>
<rect x="953.4" y="384" width="1.8" height="75" fill="#fff8d0" opacity="0.08"/>
<rect x="876" y="459" width="108.5" height="12" rx="4" fill="url(#extRim)"/>
<rect x="876" y="459" width="108.5" height="12" rx="4" fill="url(#rimV)"/>
<g style="mix-blend-mode:difference">
<line x1="573" y1="255" x2="690.7" y2="194.2" stroke="#fff" stroke-width="3.3" stroke-linecap="round"/>
<line x1="575.6" y1="380.2" x2="693.3" y2="334.6" stroke="#fff" stroke-width="3.3" stroke-linecap="round"/>
<line x1="612.6" y1="422" x2="677.4" y2="422.2" stroke="#fff" stroke-width="3.3" stroke-linecap="round"/>
<line x1="585.4" y1="467.1" x2="693" y2="467.3" stroke="#fff" stroke-width="3.3" stroke-linecap="round"/>
<line x1="742" y1="226.5" x2="781.1" y2="254" stroke="#fff" stroke-width="3.3" stroke-linecap="round"/>
<line x1="843.3" y1="253.8" x2="930.3" y2="215" stroke="#fff" stroke-width="3.3" stroke-linecap="round"/>
<line x1="742" y1="404.3" x2="781.2" y2="378.1" stroke="#fff" stroke-width="3.3" stroke-linecap="round"/>
<line x1="842.9" y1="378.1" x2="931.3" y2="419.2" stroke="#fff" stroke-width="3.3" stroke-linecap="round"/>
<line x1="743" y1="463.4" x2="781.2" y2="464" stroke="#fff" stroke-width="3.3" stroke-linecap="round"/>
<line x1="842.9" y1="464" x2="931.3" y2="463.4" stroke="#fff" stroke-width="3.3" stroke-linecap="round"/>
<ellipse cx="690.7" cy="194.2" rx="8.4" ry="9" fill="#fff"/>
<ellipse cx="693.3" cy="334.6" rx="8.1" ry="9.2" fill="#fff"/>
<ellipse cx="677.4" cy="422.4" rx="8.5" ry="8.5" fill="#fff"/>
<ellipse cx="693" cy="467.3" rx="8.5" ry="9.2" fill="#fff"/>
<ellipse cx="742" cy="226.5" rx="8.2" ry="9.3" fill="#fff"/>
<ellipse cx="930.3" cy="215" rx="8.7" ry="9.4" fill="#fff"/>
<ellipse cx="742" cy="404.3" rx="8.3" ry="9.1" fill="#fff"/>
<ellipse cx="931.3" cy="419.2" rx="8.3" ry="9.1" fill="#fff"/>
<ellipse cx="743" cy="463.4" rx="8.3" ry="9.1" fill="#fff"/>
<ellipse cx="931.3" cy="463.4" rx="8.3" ry="9.1" fill="#fff"/>
</g>
<g><ellipse cx="677.4" cy="422.4" rx="8.5" ry="8.5" fill="#fff" opacity="0.2"/></g>
<g clip-path="url(#cutR)"><ellipse cx="742" cy="404.3" rx="8.3" ry="9.1" fill="#fff" opacity="0.3"/></g>
<g clip-path="url(#cutR)"><ellipse cx="743" cy="463.4" rx="8.3" ry="9.1" fill="#fff" opacity="0.3"/></g>
<g clip-path="url(#extC)"><ellipse cx="931.3" cy="419.2" rx="8.3" ry="9.1" fill="#fff" opacity="0.22"/></g>
<g clip-path="url(#extC)"><ellipse cx="931.3" cy="463.4" rx="8.3" ry="9.1" fill="#fff" opacity="0.22"/></g>
<text x="14.8" y="97.2" textLength="89.0" lengthAdjust="spacingAndGlyphs">Birdshot</text>
<text x="158.9" y="97.4" textLength="98.3" lengthAdjust="spacingAndGlyphs">Buckshot</text>
<text x="331.2" y="97.4" textLength="46.9" lengthAdjust="spacingAndGlyphs">Slug</text>
<text x="516.2" y="261" textLength="48.8" lengthAdjust="spacingAndGlyphs">Shot</text>
<text x="516.0" y="386.6" textLength="49.8" lengthAdjust="spacingAndGlyphs">Wad</text>
<text x="478.3" y="429.2" textLength="125.0" lengthAdjust="spacingAndGlyphs">Gunpowder</text>
<text x="505.5" y="472" textLength="70.6" lengthAdjust="spacingAndGlyphs">Primer</text>
<text x="786.0" y="249.8" textLength="52.1" lengthAdjust="spacingAndGlyphs">Shell</text>
<text x="784.6" y="271.8" textLength="54.5" lengthAdjust="spacingAndGlyphs">Case</text>
<text x="781.2" y="373" textLength="59.7" lengthAdjust="spacingAndGlyphs">Brass</text>
<text x="783.0" y="397.9" textLength="56.1" lengthAdjust="spacingAndGlyphs">Head</text>
<text x="790.5" y="470.8" textLength="42.0" lengthAdjust="spacingAndGlyphs">Rim</text>
</svg>
</body></html>
